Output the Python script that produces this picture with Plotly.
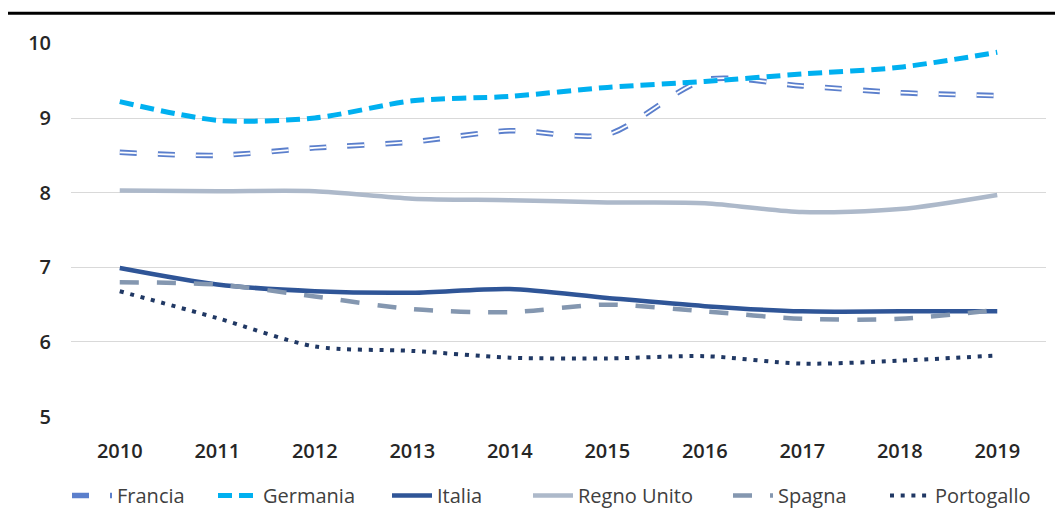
import plotly.graph_objects as go

years = ["2010", "2011", "2012", "2013", "2014", "2015", "2016", "2017", "2018", "2019"]
francia = [8.54, 8.50, 8.60, 8.68, 8.83, 8.78, 9.51, 9.43, 9.34, 9.30]
germania = [9.22, 8.97, 9.00, 9.23, 9.29, 9.41, 9.49, 9.59, 9.68, 9.88]
italia = [6.99, 6.77, 6.68, 6.66, 6.71, 6.59, 6.48, 6.41, 6.41, 6.41]
regno_unito = [8.03, 8.02, 8.02, 7.92, 7.90, 7.87, 7.86, 7.74, 7.78, 7.97]
spagna = [6.80, 6.77, 6.61, 6.44, 6.40, 6.50, 6.41, 6.31, 6.31, 6.43]
portogallo = [6.68, 6.32, 5.94, 5.88, 5.79, 5.78, 5.81, 5.71, 5.75, 5.82]
y_ticks = [5, 6, 7, 8, 9, 10]

FONT = "Open Sans"
TXT = "#404040"
SM = 0.8

# page has an 8px body margin: figure drawn at (8, 8)
W, H = 1055, 507

fig = go.Figure()

fig.add_trace(go.Scatter(x=years, y=francia, name="Francia", mode="lines", legend="legend",
                         line=dict(color="#5B7FCC", width=5.5, dash="17px,21px",
                                   shape="spline", smoothing=SM)))
fig.add_trace(go.Scatter(x=years, y=francia, name="Francia", mode="lines", showlegend=False,
                         line=dict(color="#FFFFFF", width=1.8, dash="17px,21px",
                                   shape="spline", smoothing=SM)))
fig.add_trace(go.Scatter(x=years, y=germania, name="Germania", mode="lines", legend="legend2",
                         line=dict(color="#00B0F0", width=5, dash="14px,7px",
                                   shape="spline", smoothing=SM)))
fig.add_trace(go.Scatter(x=years, y=italia, name="Italia", mode="lines", legend="legend3",
                         line=dict(color="#2F5597", width=4.5,
                                   shape="spline", smoothing=SM)))
fig.add_trace(go.Scatter(x=years, y=regno_unito, name="Regno Unito", mode="lines", legend="legend4",
                         line=dict(color="#ADB9CA", width=4.5,
                                   shape="spline", smoothing=SM)))
fig.add_trace(go.Scatter(x=years, y=spagna, name="Spagna", mode="lines", legend="legend5",
                         line=dict(color="#8497B0", width=4.5, dash="19px,18px",
                                   shape="spline", smoothing=SM)))
fig.add_trace(go.Scatter(x=years, y=portogallo, name="Portogallo", mode="lines", legend="legend6",
                         line=dict(color="#203864", width=4, dash="4px,6.7px",
                                   shape="spline", smoothing=SM)))

# legend text starts (page px) in reference
text_starts = [117, 263, 437, 578, 778, 935]


def leg(xs):
    return dict(orientation="h", xref="container", x=(xs - 58) / W, xanchor="left",
                yref="container", y=0, yanchor="bottom",
                font=dict(family=FONT, size=20, color=TXT),
                itemwidth=40, bgcolor="rgba(0,0,0,0)")


fig.update_layout(
    width=W, height=H,
    margin=dict(l=63, r=17, t=34.5, b=97.7, pad=0, autoexpand=False),
    paper_bgcolor="white", plot_bgcolor="white",
    font=dict(family=FONT, color=TXT, size=19),
    showlegend=True,
    legend=leg(text_starts[0]),
    legend2=leg(text_starts[1]),
    legend3=leg(text_starts[2]),
    legend4=leg(text_starts[3]),
    legend5=leg(text_starts[4]),
    legend6=leg(text_starts[5]),
    xaxis=dict(type="category", showgrid=False, zeroline=False, showline=False,
               ticks="", automargin=False,
               tickfont=dict(family=FONT, size=20, color="#262626", weight=600),
               ticklabelstandoff=20, range=[-0.5, 9.5]),
    yaxis=dict(range=[4.995, 10.005], tickvals=y_ticks, ticktext=[str(v) for v in y_ticks],
               showgrid=True, gridcolor="#D9D9D9", gridwidth=1.3, zeroline=False,
               showline=False, ticks="", automargin=False,
               tickfont=dict(family=FONT, size=20, color="#262626", weight=600),
               ticklabelstandoff=19),
    shapes=[dict(type="line", xref="paper", yref="paper",
                 x0=-0.07, x1=1.02, y0=1.0795, y1=1.0795,
                 line=dict(color="black", width=3))],
)

fig.write_html("out.html")
